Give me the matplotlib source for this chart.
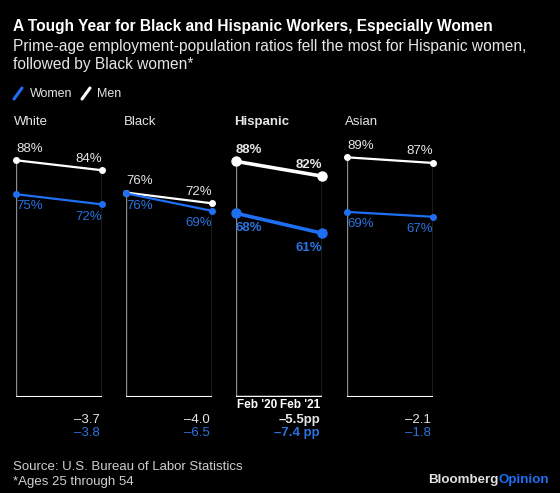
import matplotlib.pyplot as plt
from matplotlib.lines import Line2D

plt.rcParams["font.family"] = ["Liberation Sans", "DejaVu Sans"]

groups = ["White", "Black", "Hispanic", "Asian"]
men_feb20 = [88.0, 76.0, 87.6, 89.1]
men_feb21 = [84.3, 72.0, 82.1, 87.0]
women_feb20 = [75.4, 75.7, 68.3, 68.8]
women_feb21 = [71.6, 69.2, 60.9, 67.0]
men_change = [-3.7, -4.0, -5.5, -2.1]
women_change = [-3.8, -6.5, -7.4, -1.8]

W, H = 560, 493
BLUE = "#1f6ff2"
BLUE_TXT = "#2a72e0"
GREY = "#8a8a8a"
TXT = "#e6e6e6"


def fx(x):
    return x / W


def fy(y):
    return 1 - y / H


fig = plt.figure(figsize=(W / 100, H / 100), dpi=100, facecolor="black")

fig.text(fx(13), fy(27), "A Tough Year for Black and Hispanic Workers, Especially Women",
         color="white", fontsize=11.2, weight="bold", va="center")
fig.text(fx(13), fy(46), "Prime-age employment-population ratios fell the most for Hispanic women,",
         color=TXT, fontsize=11.2, va="center")
fig.text(fx(13), fy(64), "followed by Black women*", color=TXT, fontsize=11.2, va="center")

# legend
fig.add_artist(Line2D([fx(14), fx(22)], [fy(99), fy(88)], color=BLUE, lw=2.2,
                      solid_capstyle="round", transform=fig.transFigure))
fig.text(fx(30), fy(94), "Women", color=TXT, fontsize=9, va="center")
fig.add_artist(Line2D([fx(82), fx(90)], [fy(99), fy(88)], color="white", lw=2.2,
                      solid_capstyle="round", transform=fig.transFigure))
fig.text(fx(97), fy(94), "Men", color=TXT, fontsize=9, va="center")

lefts = [16, 126, 236, 347]
pw = 86
for i, g in enumerate(groups):
    hl = g == "Hispanic"
    ax = fig.add_axes([fx(lefts[i]), fy(397), fx(pw), (397 - 128) / H])
    ax.set_facecolor("black")
    ax.set_xlim(0, 1)
    ax.set_ylim(0, 100)
    ax.axis("off")

    fig.text(fx(lefts[i] - 2), fy(122), g, color=TXT, fontsize=9.5,
             weight="bold" if hl else "normal", va="center")

    top0 = max(men_feb20[i], women_feb20[i])
    top1 = max(men_feb21[i], women_feb21[i])
    ax.vlines([0, 1], 0, [top0, top1], color=GREY, lw=1, zorder=1)
    ax.axhline(0, color="white", lw=2.5 if hl else 1.5, zorder=2)

    lw = 2.6 if hl else 1.6
    ms = 6.5 if hl else 4
    ax.plot([0, 1], [men_feb20[i], men_feb21[i]], color="white", lw=lw,
            marker="o", ms=ms, clip_on=False, zorder=3)
    ax.plot([0, 1], [women_feb20[i], women_feb21[i]], color=BLUE, lw=lw,
            marker="o", ms=ms, clip_on=False, zorder=4)

    wt = "bold" if hl else "normal"
    for x, v, ha in [(0, men_feb20[i], "left"), (1, men_feb21[i], "right")]:
        ax.annotate(f"{round(v)}%", (x, v), xytext=(0, 4), textcoords="offset points",
                    ha=ha, va="bottom", color=TXT, fontsize=9.5, weight=wt)
    for x, v, ha in [(0, women_feb20[i], "left"), (1, women_feb21[i], "right")]:
        ax.annotate(f"{round(v)}%", (x, v), xytext=(0, -6 if hl else -4.5),
                    textcoords="offset points",
                    ha=ha, va="top", color=BLUE_TXT, fontsize=9.5, weight=wt)

    if hl:
        ax.annotate("Feb '20", (0, 0), xytext=(1, -6), textcoords="offset points",
                    ha="left", va="center", color="white", fontsize=8.5, weight="bold")
        ax.annotate("Feb '21", (1, 0), xytext=(-1.5, -6), textcoords="offset points",
                    ha="right", va="center", color="white", fontsize=8.5, weight="bold")
        m_txt = f"\u2013{abs(men_change[i]):.1f}pp"
        w_txt = f"\u2013{abs(women_change[i]):.1f} pp"
    else:
        m_txt = f"\u2013{abs(men_change[i]):.1f}"
        w_txt = f"\u2013{abs(women_change[i]):.1f}"
    ax.annotate(m_txt, (1, 0), xytext=(-1.5, -16.5), textcoords="offset points",
                ha="right", va="center", color=TXT, fontsize=9.5, weight=wt)
    ax.annotate(w_txt, (1, 0), xytext=(-1.5, -26), textcoords="offset points",
                ha="right", va="center", color=BLUE_TXT, fontsize=9.5, weight=wt)

fig.text(fx(13), fy(467), "Source: U.S. Bureau of Labor Statistics", color="#cfcfcf",
         fontsize=9.5, va="center")
fig.text(fx(13), fy(482), "*Ages 25 through 54", color="#cfcfcf", fontsize=9.5, va="center")

t = fig.text(fx(428), fy(480), "Bloomberg", color="#e0e0e0", fontsize=9.6,
             weight="bold", va="center")
fig.canvas.draw()
bb = t.get_window_extent()
fig.text(bb.x1 / fig.dpi / fig.get_figwidth(), fy(480), "Opinion", color=BLUE,
         fontsize=9.6, weight="bold", va="center")

fig.savefig("out.png", dpi=100, facecolor="black")
